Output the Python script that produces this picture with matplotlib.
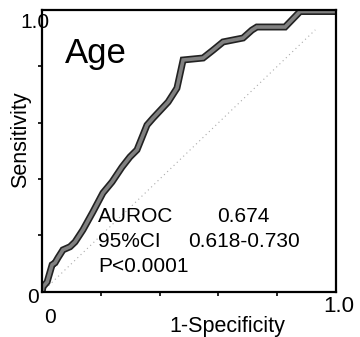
import matplotlib.pyplot as plt
import matplotlib.patheffects as pe

# ROC curve
fpr = [0.0, 0.003, 0.017, 0.034, 0.044, 0.054, 0.071, 0.095, 0.112, 0.139,
       0.173, 0.207, 0.238, 0.272, 0.299, 0.323, 0.357, 0.378, 0.429, 0.459,
       0.480, 0.548, 0.582, 0.616, 0.684, 0.714, 0.731, 0.827, 0.878, 1.0]
tpr = [0.0, 0.018, 0.035, 0.096, 0.103, 0.121, 0.149, 0.160, 0.177, 0.220,
       0.284, 0.351, 0.390, 0.443, 0.479, 0.504, 0.592, 0.617, 0.674, 0.723,
       0.823, 0.830, 0.858, 0.887, 0.901, 0.929, 0.940, 0.940, 0.995, 0.995]

title = 'Age'
stat_names = ['AUROC', '95%CI', 'P<0.0001']
stat_values = ['0.674', '0.618-0.730']

plt.rcParams['font.family'] = ['Liberation Sans', 'DejaVu Sans']

fig = plt.figure(figsize=(3.6, 3.37), dpi=100)
ax = fig.add_axes([0.117, 0.134, 0.816, 0.836])
ax.set_xlim(0, 1)
ax.set_ylim(0, 1)

# chance line
ax.plot([0, 0.93], [0, 0.93], color='#aaaaaa', lw=0.8, ls=(0, (1, 3)))
# ROC line: gray with dark edges
ax.plot(fpr, tpr, color='#808080', lw=2.6, solid_joinstyle='miter',
        path_effects=[pe.Stroke(linewidth=5, foreground='#222222'), pe.Normal()])

for s in ax.spines.values():
    s.set_linewidth(1.6)
ax.set_xticks([0.2, 0.4, 0.6, 0.8])
ax.set_yticks([0.2, 0.4, 0.6, 0.8])
ax.set_xticklabels([])
ax.set_yticklabels([])
ax.tick_params(direction='out', length=3, width=1.2)

ax.text(0.078, 0.812, title, fontsize=25, va='baseline', transform=ax.transAxes)
ys = [0.248, 0.160, 0.071]
for name, y in zip(stat_names, ys):
    ax.text(0.19, y, name, fontsize=15, va='baseline', transform=ax.transAxes)
ax.text(0.595, ys[0], stat_values[0], fontsize=15, va='baseline',
        transform=ax.transAxes)
ax.text(0.497, ys[1], stat_values[1], fontsize=15, va='baseline',
        transform=ax.transAxes)

# tick labels only at the ends
fig.text(0.139, 0.042, '0', fontsize=15, ha='center', va='baseline')
fig.text(0.898, 0.074, '1.0', fontsize=16, ha='left', va='baseline')
fig.text(0.075, 0.101, '0', fontsize=15, ha='left', va='baseline')
fig.text(0.056, 0.917, '1.0', fontsize=15, ha='left', va='baseline')

fig.text(0.631, 0.015, '1-Specificity', fontsize=15.5, ha='center',
         va='baseline')
fig.text(0.058, 0.585, 'Sensitivity', fontsize=15.5, ha='center', va='center',
         rotation=90)

fig.savefig('out.png')
